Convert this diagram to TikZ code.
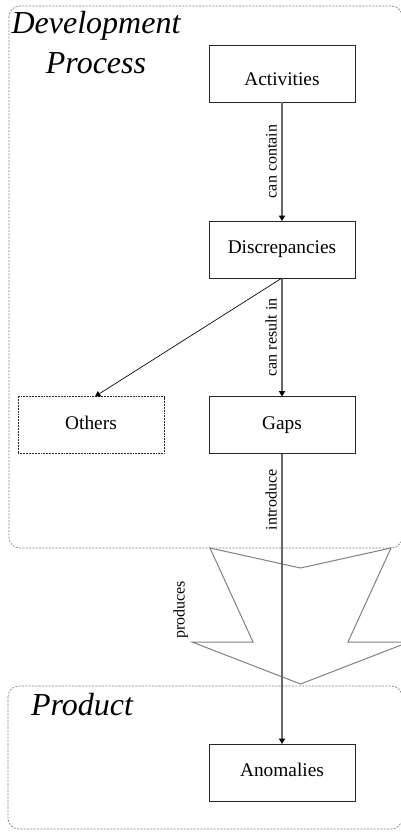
\documentclass[tikz,border=0pt]{standalone}
\usepackage{fontspec}
\setmainfont{Liberation Serif}[ItalicFont={Liberation Serif Italic}]
\usetikzlibrary{arrows.meta}
\begin{document}
\begin{tikzpicture}[x=0.75pt, y=-0.75pt,
    >={Triangle[length=4pt, width=4.5pt, color=black]},
    entity/.style={draw=black!85, line width=0.6pt, minimum width=109.5pt, minimum height=42.75pt,
        inner sep=0pt, outer sep=0pt, text height=0.66em, text depth=0pt,
        font=\fontsize{14.5}{17}\selectfont},
    rel/.style={rotate=90, anchor=south, inner sep=3.5pt, font=\fontsize{12}{14}\selectfont},
    area/.style={draw=gray, dash pattern=on 1.5pt off 1pt, line width=0.5pt, rounded corners=8pt},
    conn/.style={draw=black!60, line width=1pt, ->},
    grouptitle/.style={font=\fontsize{24}{30}\selectfont\itshape, align=center, inner sep=0pt}]
    \useasboundingbox (0,0) rectangle (400,832);
    % groups
    \draw[area] (9,6) rectangle (402,548);
    \draw[area] (8,686) rectangle (402,829);
    \node[grouptitle] (devtitle) at (96,43) {Development\\Process};
    \node[grouptitle] (prodtitle) at (82,705) {Product};
    % produces arrow
    \draw[gray, line width=0.75pt] (210,548) -- (300.5,568) -- (391,548) -- (348,642) -- (409,642)
        -- (300.5,684) -- (192,642) -- (253,642) -- cycle;
    \node[rel] (produces) at (193,610) {produces};
    % entities
    \node[entity, text height=17.8pt] (activities) at (282,73.5) {Activities};
    \node[entity] (discrepancies) at (282,249.5) {Discrepancies};
    \node[entity, dash pattern=on 0.75pt off 0.4pt] (others) at (91,425) {Others};
    \node[entity] (gaps) at (282,425) {Gaps};
    \node[entity] (anomalies) at (282,772.5) {Anomalies};
    % relations
    \draw[conn] (activities) -- (discrepancies) node[rel, midway] {can contain};
    \draw[conn] (discrepancies) -- (gaps) node[rel, midway] {can result in};
    \draw[->, black, line width=0.5pt] (discrepancies.south) -- ([xshift=3pt]others.north);
    \draw[conn] (gaps) -- (anomalies) node[rel, pos=0.16] {introduce};
\end{tikzpicture}
\end{document}
